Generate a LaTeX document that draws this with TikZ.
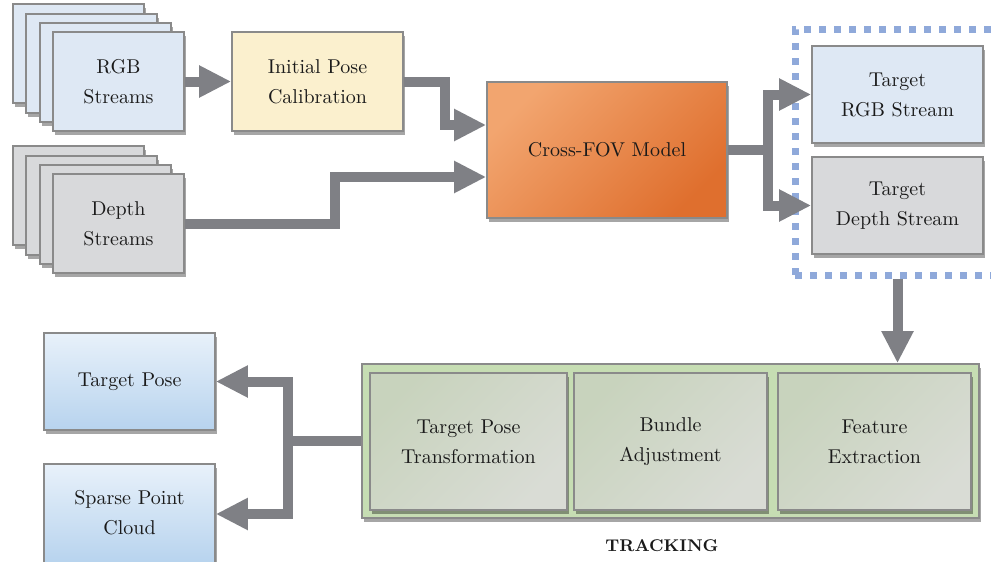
\documentclass[tikz,border=0pt]{standalone}
\usetikzlibrary{arrows.meta,shadows,fit,calc}
\definecolor{conncol}{HTML}{7F8085}
\definecolor{edgecol}{HTML}{8A8A8A}
\definecolor{rgbfill}{HTML}{DEE8F4}
\definecolor{depthfill}{HTML}{D8D9DB}
\definecolor{initfill}{HTML}{FBF0CE}
\definecolor{crossA}{HTML}{F2A56F}
\definecolor{crossB}{HTML}{DF6F2E}
\definecolor{trackfill}{HTML}{C6DDB3}
\definecolor{innerA}{HTML}{C8D3BD}
\definecolor{innerB}{HTML}{D9DCD5}
\definecolor{outA}{HTML}{E8F1FA}
\definecolor{outB}{HTML}{B7D3EE}
\definecolor{selcol}{HTML}{8FA9DA}
\definecolor{txt}{HTML}{1A1A1A}
\tikzset{
  x=0.5pt, y=-0.5pt,
  lbl/.style={align=center, text=txt, font=\fontsize{10}{15}\selectfont, inner sep=0pt},
  base/.style={draw=edgecol, line width=0.8pt, inner sep=0pt,
    drop shadow={shadow xshift=0.8pt, shadow yshift=-1.8pt, opacity=0.35, fill=black}},
  rgbbox/.style={base, fill=rgbfill},
  depthbox/.style={base, fill=depthfill},
  initbox/.style={base, fill=initfill},
  crossbox/.style={base, top color=crossA, bottom color=crossB, shading angle=45},
  trackbox/.style={base, fill=trackfill},
  innerbox/.style={base, top color=innerA, bottom color=innerB, shading angle=45},
  outbox/.style={base, top color=outA, bottom color=outB},
  selbox/.style={draw=selcol, line width=3.5pt, dash pattern=on 3.5pt off 4pt, inner sep=0pt},
  conn/.style={draw=conncol, line width=5pt},
  arr/.style={conn, -{Triangle[length=16pt,width=15pt]}},
}
\begin{document}
\begin{tikzpicture}
\useasboundingbox (0,0) rectangle (991,562);
\clip (0,0) rectangle (991,562);

% RGB stack
\node[rgbbox, fit={(13,4)(144,103)}] (rgbA) {};
\node[rgbbox, fit={(26,14)(157,113)}] (rgbB) {};
\node[rgbbox, fit={(40,23)(171,122)}] (rgbC) {};
\node[rgbbox, fit={(53,32)(184,131)}, label={[lbl]center:RGB\\Streams}] (rgb) {};
% Depth stack
\node[depthbox, fit={(13,146)(144,245)}] (depA) {};
\node[depthbox, fit={(26,156)(157,255)}] (depB) {};
\node[depthbox, fit={(40,165)(171,264)}] (depC) {};
\node[depthbox, fit={(53,174)(184,273)}, label={[lbl]center:Depth\\Streams}] (depth) {};

\node[initbox, fit={(232,32)(403,131)}, label={[lbl]center:Initial Pose\\Calibration}] (init) {};
\node[crossbox, fit={(487,82)(727,218)}, label={[lbl]center:Cross-FOV Model}] (cross) {};

\node[selbox, fit={(795,29)(1010,275)}] (sel) {};
\node[rgbbox, fit={(812,46)(983,143)}, label={[lbl]center:Target\\RGB Stream}] (trgb) {};
\node[depthbox, fit={(812,157)(983,254)}, label={[lbl]center:Target\\Depth Stream}] (tdepth) {};

\node[trackbox, fit={(362,364)(979,518)}] (track) {};
\node[innerbox, fit={(370,373)(567,510)}, label={[lbl]center:Target Pose\\Transformation}] (tpt) {};
\node[innerbox, fit={(574,373)(767,510)}, label={[lbl]center:Bundle\\Adjustment}] (ba) {};
\node[innerbox, fit={(778,373)(971,510)}, label={[lbl]center:Feature\\Extraction}] (fe) {};
\node[font=\fontsize{8.5}{10}\selectfont\bfseries, text=txt] (tracklbl) at (662,546) {TRACKING};

\node[outbox, fit={(44,333)(215,430)}, label={[lbl]center:Target Pose}] (tpose) {};
\node[outbox, fit={(44,464)(215,564)}] (spc) {};
\node[lbl] (spclbl) at (129.5,512.5) {Sparse Point\\Cloud};

% connectors
\draw[arr] (rgb.east) -- (init.west);
\draw[arr] (init.east) -| (445,125) -- ($(cross.west)+(0,-25)$);
\draw[arr] (depth.east) -| (335,177) -- ($(cross.west)+(0,27)$);
\coordinate (split) at (768,150);
\draw[conn] (cross.east) -- (split);
\draw[arr] (split) |- (trgb.west);
\draw[arr] (split) |- (tdepth.west);
\draw[arr] (tdepth.south |- sel.south) -- (tdepth.south |- track.north);
\coordinate (merge) at (288,441);
\draw[conn] (track.west) -- (merge);
\draw[arr] (merge) |- (tpose.east);
\draw[arr] (merge) |- (spc.east);
\end{tikzpicture}
\end{document}
